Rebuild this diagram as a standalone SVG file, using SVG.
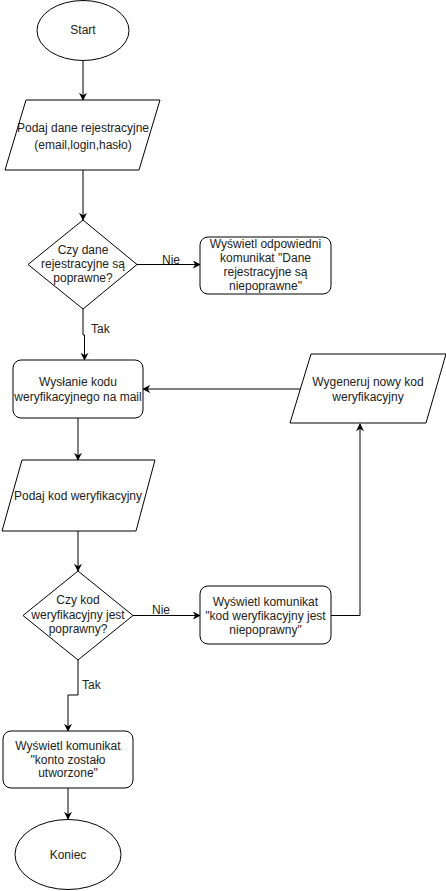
<svg xmlns="http://www.w3.org/2000/svg" width="446" height="891" viewBox="0 0 446 891">
<style>
.s{fill:#fff;stroke:#000;stroke-width:1}
.t{font-family:"Liberation Sans",Arial,sans-serif;font-size:12px;fill:#222;text-anchor:middle;dominant-baseline:central}
.l{font-family:"Liberation Sans",Arial,sans-serif;font-size:12px;fill:#222;text-anchor:start;dominant-baseline:central}
.c{fill:none;stroke:#000;stroke-width:1}
</style>
<defs>
<marker id="a" viewBox="0 0 10 10" refX="9" refY="5" markerWidth="8" markerHeight="8" markerUnits="userSpaceOnUse" orient="auto">
<path d="M0,0 L10,5 L0,10 L3,5 Z" fill="#000"/>
</marker>
</defs>
<rect width="446" height="891" fill="#fff"/>
<g id="connectors">
<path class="c" d="M83,61 V100" marker-end="url(#a)"/>
<path class="c" d="M83,170 V220" marker-end="url(#a)"/>
<path class="c" d="M137,264.5 H200" marker-end="url(#a)"/>
<path class="c" d="M83,309 V335 H84.5 V360" marker-end="url(#a)"/>
<path class="c" d="M78,418 V460" marker-end="url(#a)"/>
<path class="c" d="M300,389 H143" marker-end="url(#a)"/>
<path class="c" d="M78,531 V571" marker-end="url(#a)"/>
<path class="c" d="M133,615.5 H200" marker-end="url(#a)"/>
<path class="c" d="M331,615.5 H360 V424" marker-end="url(#a)"/>
<path class="c" d="M78,660 V695 H68 V731" marker-end="url(#a)"/>
<path class="c" d="M68,788 V819" marker-end="url(#a)"/>
<text class="l" x="162" y="260">Nie</text>
<text class="l" x="91" y="329">Tak</text>
<text class="l" x="152" y="610">Nie</text>
<text class="l" x="82" y="685">Tak</text>
</g>
<g id="start">
<ellipse class="s" cx="83" cy="30.5" rx="46" ry="30"/>
<text class="t" x="83" y="30">Start</text>
</g>
<g id="input1">
<polygon class="s" points="26,100 160,100 139,170 5,170"/>
<text class="t" x="83" y="128">Podaj dane rejestracyjne</text>
<text class="t" x="83" y="145">(email,login,hasło)</text>
</g>
<g id="decision1">
<polygon class="s" points="83,220 137,264.5 83,309 28,264.5"/>
<text class="t" x="83" y="250">Czy dane</text>
<text class="t" x="83" y="264">rejestracyjne są</text>
<text class="t" x="83" y="278">poprawne?</text>
</g>
<g id="error1">
<rect class="s" x="200" y="237" width="131" height="57" rx="8"/>
<text class="t" x="265.5" y="244">Wyświetl odpowiedni</text>
<text class="t" x="265.5" y="258">komunikat "Dane</text>
<text class="t" x="265.5" y="272">rejestracyjne są</text>
<text class="t" x="265.5" y="286">niepoprawne"</text>
</g>
<g id="send">
<rect class="s" x="13" y="360" width="130" height="58" rx="8"/>
<text class="t" x="78" y="382">Wysłanie kodu</text>
<text class="t" x="78" y="397">weryfikacyjnego na mail</text>
</g>
<g id="regen">
<polygon class="s" points="311,354 446,354 426,423 290,423"/>
<text class="t" x="368" y="382">Wygeneruj nowy kod</text>
<text class="t" x="368" y="397">weryfikacyjny</text>
</g>
<g id="input2">
<polygon class="s" points="22,460 155,460 136,531 2,531"/>
<text class="t" x="78" y="496">Podaj kod weryfikacyjny</text>
</g>
<g id="decision2">
<polygon class="s" points="78,571 133,615.5 78,660 23,615.5"/>
<text class="t" x="78" y="600">Czy kod</text>
<text class="t" x="78" y="615">weryfikacyjny jest</text>
<text class="t" x="78" y="629">poprawny?</text>
</g>
<g id="error2">
<rect class="s" x="200" y="586" width="131" height="58" rx="8"/>
<text class="t" x="265.5" y="602">Wyświetl komunikat</text>
<text class="t" x="265.5" y="616">"kod weryfikacyjny jest</text>
<text class="t" x="265.5" y="630">niepoprawny"</text>
</g>
<g id="success">
<rect class="s" x="3" y="731" width="130" height="57" rx="8"/>
<text class="t" x="68" y="746">Wyświetl komunikat</text>
<text class="t" x="68" y="760">"konto zostało</text>
<text class="t" x="68" y="773">utworzone"</text>
</g>
<g id="end">
<ellipse class="s" cx="68" cy="854.5" rx="53" ry="35"/>
<text class="t" x="68" y="855">Koniec</text>
</g>
</svg>
